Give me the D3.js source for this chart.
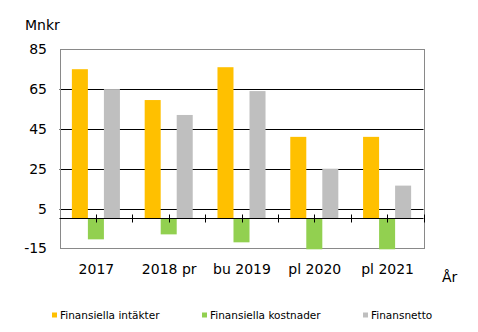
<!DOCTYPE html>
<html>
<head>
<meta charset="utf-8">
<script src="https://cdn.jsdelivr.net/npm/d3@7/dist/d3.min.js"></script>
<style>
  html, body { margin: 0; padding: 0; background: #fff; }
  svg { display: block; }
  text { font-family: "DejaVu Sans", Verdana, sans-serif; fill: #000; }
</style>
</head>
<body>
<svg id="chart" width="478" height="332"></svg>
<script>
const categories = ["2017", "2018 pr", "bu 2019", "pl 2020", "pl 2021"];
const seriesNames = ["Finansiella intäkter", "Finansiella kostnader", "Finansnetto"];
const intakter = [75, 59.5, 76, 41, 41];
const kostnader = [-10.5, -8, -12, -15.5, -15.5];
const finansnetto = [65, 52, 64, 25, 16.5];
const yTicks = [-15, 5, 25, 45, 65, 85];
const colors = ["#FFC000", "#92D050", "#BFBFBF"];

const svg = d3.select("#chart");
const L = 59.5, R = 423.5, T = 49.3, B = 248.3;

const x = d3.scaleBand().domain(categories).range([L, R]).paddingInner(0.34).paddingOuter(0.17);
const x1 = d3.scaleBand().domain(seriesNames).range([0, x.bandwidth()]);
const y = d3.scaleLinear().domain([-15, 85]).range([B, T]);

const seriesData = [intakter, kostnader, finansnetto];

// gridlines
svg.append("g").selectAll("line").data(yTicks.filter(d => d > -15 && d < 85)).join("line")
  .attr("x1", L).attr("x2", R)
  .attr("y1", d => Math.round(y(d)) + 0.5).attr("y2", d => Math.round(y(d)) + 0.5)
  .attr("stroke", "#000").attr("stroke-width", 1);

// plot border
svg.append("rect")
  .attr("x", Math.round(L) + 0.5).attr("y", Math.round(T) + 0.5)
  .attr("width", Math.round(R) - Math.round(L)).attr("height", Math.round(B) - Math.round(T))
  .attr("fill", "none").attr("stroke", "#898989").attr("stroke-width", 1);

// bars
const groups = svg.append("g").selectAll("g").data(categories).join("g")
  .attr("transform", d => `translate(${x(d)},0)`);
groups.selectAll("rect")
  .data((c, i) => seriesNames.map((s, j) => ({ s, v: seriesData[j][i], c: colors[j] })))
  .join("rect")
  .attr("x", d => x1(d.s))
  .attr("width", x1.bandwidth())
  .attr("y", d => y(Math.max(0, d.v)))
  .attr("height", d => Math.abs(y(d.v) - y(0)))
  .attr("fill", d => d.c);

// zero axis
const y0 = Math.round(y(0)) + 0.5;
svg.append("line").attr("x1", L).attr("x2", R).attr("y1", y0).attr("y2", y0)
  .attr("stroke", "#000").attr("stroke-width", 1);

// x ticks at centers and boundaries
const tickPos = [];
categories.forEach(c => {
  const cx = x(c) + x.bandwidth() / 2;
  tickPos.push(cx, cx + x.step() / 2);
});
svg.append("g").selectAll("line").data(tickPos).join("line")
  .attr("x1", d => Math.round(d) + 0.5).attr("x2", d => Math.round(d) + 0.5)
  .attr("y1", y0 - 4).attr("y2", y0 + 4)
  .attr("stroke", "#000").attr("stroke-width", 1);

// y labels
svg.append("g").selectAll("text").data(yTicks).join("text")
  .attr("x", 47).attr("y", d => y(d) + 5)
  .attr("text-anchor", "end").attr("font-size", 14)
  .text(d => d);

// x labels
svg.append("g").selectAll("text").data(categories).join("text")
  .attr("x", d => x(d) + x.bandwidth() / 2 + 0.5).attr("y", 274)
  .attr("text-anchor", "middle").attr("font-size", 14)
  .text(d => d);

svg.append("text").attr("x", 25).attr("y", 30).attr("font-size", 14).text("Mnkr");
svg.append("text").attr("x", 442).attr("y", 282).attr("font-size", 14).text("År");

// legend
const legendX = [52, 202, 363];
const lg = svg.append("g").selectAll("g").data(seriesNames).join("g")
  .attr("transform", (d, i) => `translate(${legendX[i]},0)`);
lg.append("rect").attr("x", 0).attr("y", 312.5).attr("width", 5).attr("height", 5)
  .attr("fill", (d, i) => colors[i]);
lg.append("text").attr("x", 8).attr("y", 319).attr("font-size", 10.5)
  .text(d => d);
</script>
</body>
</html>
